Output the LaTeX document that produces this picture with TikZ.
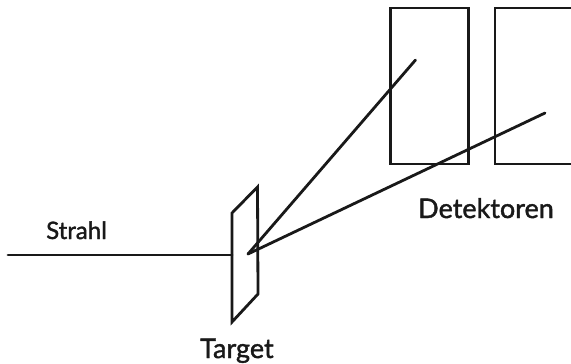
\documentclass[tikz,border=0pt]{standalone}
\usepackage{fontspec}
\setmainfont{Lato}[FakeBold=1.5]
\tikzset{
  ink/.style={draw=black!90,line width=2.8pt,line join=miter},
  ray/.style={draw=black!90,line width=2.8pt,line cap=round},
  lbl/.style={inner sep=0pt,text=black!90,font=\fontsize{27}{30}\selectfont},
  lblsmall/.style={inner sep=0pt,text=black!90,font=\fontsize{24}{27}\selectfont}
}
\begin{document}
\begin{tikzpicture}[x=1pt,y=-1pt]
\useasboundingbox (0,0) rectangle (571,364);
\fill[white] (0,0) rectangle (571,364);
\coordinate (origin) at (248,254);
\coordinate (beamstart) at (8,255);
\coordinate (beamend) at (232,255);
\coordinate (rayA) at (415.5,60);
\coordinate (rayB) at (545,113);
\draw[ink] (390.5,8) rectangle (468.5,164);
\draw[ink] (571,8) -- (495,8) -- (495,164) -- (571,164);
\draw[ink] (257.5,187) -- (232,213) -- (232,322) -- (258,294) -- cycle;
\draw[ray] (beamstart) -- (beamend);
\draw[ray] (origin) -- (rayA);
\draw[ray] (origin) -- (rayB);
\node[lblsmall,anchor=base west] (strahl) at (46,239) {Strahl};
\node[lbl,anchor=base west] (det) at (418,218) {Detektoren};
\node[lbl,anchor=base west] (target) at (200,358) {Target};
\end{tikzpicture}
\end{document}
